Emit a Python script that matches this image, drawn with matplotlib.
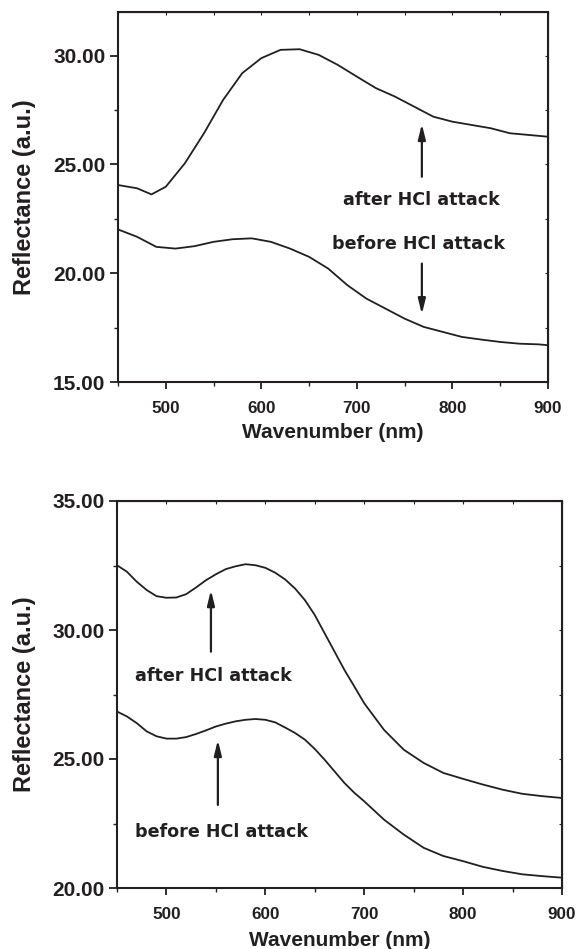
import matplotlib
matplotlib.use("Agg")
import matplotlib.pyplot as plt
from matplotlib.ticker import MultipleLocator, FormatStrFormatter

plt.rcParams['font.family'] = ['Liberation Sans', 'DejaVu Sans']
plt.rcParams['font.weight'] = 'bold'

INK = '#231f20'

# ---- top panel data ----
top_after_x = [450, 470, 485, 500, 520, 540, 560, 580, 600, 620, 640, 660, 680, 700,
               720, 740, 760, 780, 800, 820, 840, 860, 880, 900]
top_after_y = [24.05, 23.9, 23.62, 23.97, 25.05, 26.43, 27.96, 29.19, 29.88, 30.26, 30.29,
               30.03, 29.57, 29.03, 28.5, 28.11, 27.65, 27.19, 26.96, 26.81, 26.66, 26.43,
               26.35, 26.27]
top_before_x = [450, 470, 490, 510, 530, 550, 570, 590, 610, 630, 650, 670, 690, 710,
                730, 750, 770, 790, 810, 830, 850, 870, 890, 900]
top_before_y = [22.01, 21.67, 21.21, 21.13, 21.24, 21.44, 21.56, 21.6, 21.44, 21.13, 20.75,
                20.21, 19.45, 18.83, 18.37, 17.91, 17.53, 17.3, 17.07, 16.95, 16.84, 16.76,
                16.73, 16.69]

# ---- bottom panel data ----
bot_x = [450, 460, 470, 480, 490, 500, 510, 520, 530, 540, 550, 560, 570, 580, 590, 600,
         610, 620, 630, 640, 650, 660, 670, 680, 690, 700, 720, 740, 760, 780, 800, 820,
         840, 860, 880, 900]
bot_after_y = [32.51, 32.26, 31.87, 31.55, 31.31, 31.25, 31.26, 31.39, 31.65, 31.93, 32.16,
               32.36, 32.47, 32.55, 32.51, 32.41, 32.22, 31.96, 31.61, 31.16, 30.58, 29.87,
               29.16, 28.45, 27.81, 27.16, 26.13, 25.36, 24.85, 24.46, 24.23, 24.01, 23.81,
               23.65, 23.56, 23.49]
bot_before_y = [26.84, 26.65, 26.39, 26.07, 25.88, 25.79, 25.79, 25.85, 25.97, 26.11, 26.26,
                26.37, 26.46, 26.52, 26.55, 26.52, 26.42, 26.22, 26.01, 25.75, 25.39, 24.97,
                24.52, 24.07, 23.69, 23.36, 22.65, 22.07, 21.56, 21.24, 21.04, 20.82, 20.66,
                20.53, 20.46, 20.4]

labels = ['after HCl attack', 'before HCl attack']
xlabel = 'Wavenumber (nm)'
ylabel = 'Reflectance (a.u.)'

fig = plt.figure(figsize=(5.79, 9.49), dpi=100)
W, H = 579, 949

def make_ax(l, r, t, b):
    return fig.add_axes([l / W, 1 - b / H, (r - l) / W, (b - t) / H])

ax1 = make_ax(118, 548, 12, 382)
ax2 = make_ax(117, 562, 501, 888)

def style(ax, ylim, ylab_x, xlab_y):
    ax.set_xlim(450, 900)
    ax.set_ylim(*ylim)
    ax.xaxis.set_major_locator(MultipleLocator(100))
    ax.xaxis.set_minor_locator(MultipleLocator(50))
    ax.yaxis.set_major_locator(MultipleLocator(5))
    ax.yaxis.set_minor_locator(MultipleLocator(2.5))
    ax.yaxis.set_major_formatter(FormatStrFormatter('%.2f'))
    for s in ax.spines.values():
        s.set_linewidth(1.5)
        s.set_color(INK)
    ax.tick_params(axis='x', which='major', direction='out', length=5, width=1.3,
                   labelsize=12.3, colors=INK, pad=8.5)
    ax.tick_params(axis='x', which='minor', direction='out', length=3, width=1.0, colors=INK)
    ax.tick_params(axis='y', which='major', direction='out', length=5.5, width=1.3,
                   labelsize=15, colors=INK, pad=3.5)
    ax.tick_params(axis='y', which='minor', direction='out', length=3, width=1.0, colors=INK)
    for lab in ax.get_xticklabels() + ax.get_yticklabels():
        lab.set_fontweight('bold')
    top = ax.secondary_xaxis('top')
    top.xaxis.set_major_locator(MultipleLocator(50))
    top.tick_params(direction='in', length=2.5, width=0.8, colors=INK, labeltop=False)
    right = ax.secondary_yaxis('right')
    right.yaxis.set_major_locator(MultipleLocator(2.5))
    right.tick_params(direction='in', length=2.5, width=0.8, colors=INK, labelright=False)
    ax.set_xlabel(xlabel, fontsize=15, fontweight='bold', color=INK)
    ax.set_ylabel(ylabel, fontsize=17, fontweight='bold', color=INK)
    ax.xaxis.label.set_va('center')
    ax.yaxis.label.set_va('center')
    ax.xaxis.set_label_coords(0.5, xlab_y)
    ax.yaxis.set_label_coords(ylab_x, 0.5)

style(ax1, (15, 32), (24.5 - 118) / 430, (382 - 433) / 370)
style(ax2, (20, 35), (24.5 - 117) / 445, (888 - 940) / 387)

ax1.plot(top_after_x, top_after_y, color=INK, lw=1.3)
ax1.plot(top_before_x, top_before_y, color=INK, lw=1.3)
ax2.plot(bot_x, bot_after_y, color=INK, lw=1.3)
ax2.plot(bot_x, bot_before_y, color=INK, lw=1.3)

arrow = dict(arrowstyle='-|>,head_length=0.9,head_width=0.22', color=INK, lw=1.6,
             shrinkA=0, shrinkB=0)
ann_font = dict(fontsize=12.6, fontweight='bold', color=INK,
                family=['DejaVu Sans'], ha='center', va='center')
# top panel annotations
ax1.annotate('', xy=(768, 26.86), xytext=(768, 24.43), arrowprops=arrow)
ax1.annotate('', xy=(768, 18.11), xytext=(768, 20.44), arrowprops=arrow)
ax1.text(767, 23.36, labels[0], **ann_font)
ax1.text(764, 21.32, labels[1], **ann_font)
# bottom panel annotations
ax2.annotate('', xy=(545, 31.55), xytext=(545, 29.16), arrowprops=arrow)
ax2.annotate('', xy=(552, 25.74), xytext=(552, 23.22), arrowprops=arrow)
ax2.text(547.6, 28.22, labels[0], **ann_font)
ax2.text(555.7, 22.17, labels[1], **ann_font)

fig.savefig('out.png', dpi=100)
